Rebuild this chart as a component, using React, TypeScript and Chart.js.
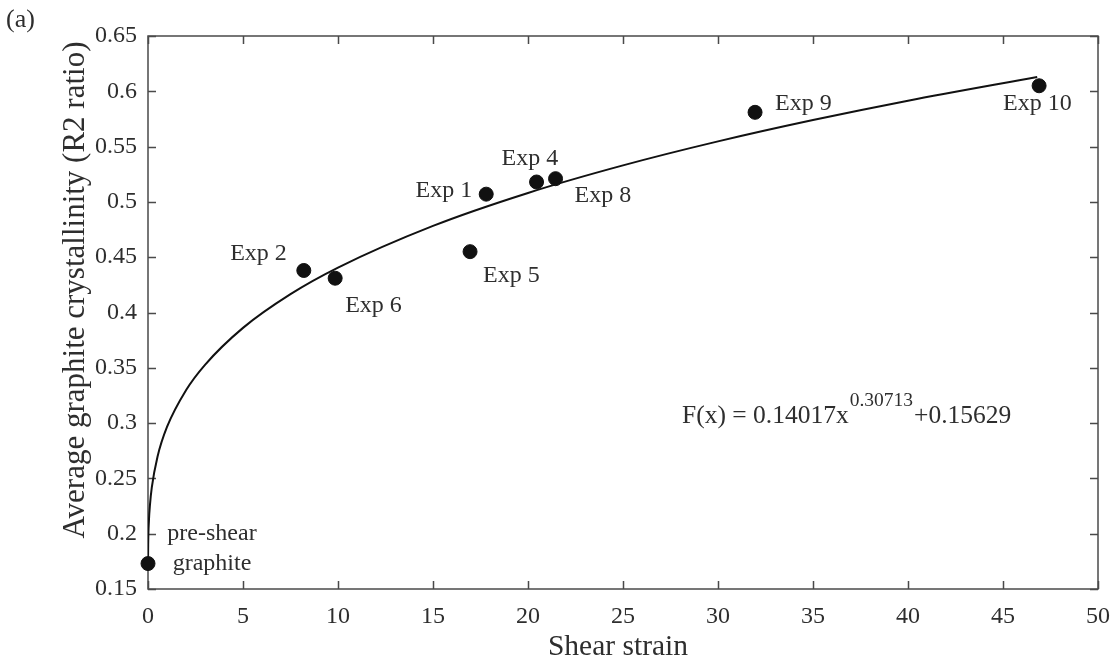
import React, { useEffect, useRef } from 'react';
import { Chart, registerables } from 'chart.js';

Chart.register(...registerables);

// ---- Data ----
const pointNames = ['pre-shear\ngraphite', 'Exp 2', 'Exp 6', 'Exp 5', 'Exp 1', 'Exp 4', 'Exp 8', 'Exp 9', 'Exp 10'];
const shearStrain = [0, 8.2, 9.85, 16.95, 17.8, 20.45, 21.45, 31.95, 46.9];
const crystallinity = [0.173, 0.438, 0.431, 0.455, 0.507, 0.518, 0.521, 0.581, 0.605];

// Fitted curve
const fitStrain = [0.001, 0.01, 0.05, 0.1, 0.2, 0.5, 1, 2, 3, 5, 7.5, 10, 15, 20, 25, 30, 35, 40, 46.8];
const fitR2 = [0.1731, 0.1904, 0.2122, 0.2254, 0.2418, 0.2696, 0.2965, 0.3297, 0.3527, 0.3861, 0.4166, 0.4406, 0.4783, 0.5081, 0.533, 0.5547, 0.574, 0.5915, 0.613];

const xTicks = [0, 5, 10, 15, 20, 25, 30, 35, 40, 45, 50];
const yTicks = [0.15, 0.2, 0.25, 0.3, 0.35, 0.4, 0.45, 0.5, 0.55, 0.6, 0.65];
const xTickLabels = ['0', '5', '10', '15', '20', '25', '30', '35', '40', '45', '50'];
const yTickLabels = ['0.15', '0.2', '0.25', '0.3', '0.35', '0.4', '0.45', '0.5', '0.55', '0.6', '0.65'];

const xTitle = 'Shear strain';
const yTitle = 'Average graphite crystallinity (R2 ratio)';
const panelLabel = '(a)';
const eqMain = 'F(x) = 0.14017x';
const eqSup = '0.30713';
const eqTail = '+0.15629';

// ---- Layout (pixel offsets of point labels relative to their markers) ----
const labelLayout = [
  { dx: 64, dy: -24, align: 'center' },
  { dx: -17, dy: -10, align: 'right' },
  { dx: 10, dy: 34, align: 'left' },
  { dx: 13, dy: 30, align: 'left' },
  { dx: -14, dy: 3, align: 'right' },
  { dx: -35, dy: -17, align: 'left' },
  { dx: 19, dy: 23, align: 'left' },
  { dx: 20, dy: -2, align: 'left' },
  { dx: -36, dy: 24, align: 'left' },
];

const FONT = '"Liberation Serif", "Times New Roman", serif';
const TEXT = '#2e2e2e';
const AXIS = '#4a4a4a';

const overlay = {
  id: 'overlay',
  beforeDatasetsDraw(chart: any) {
    const { ctx, chartArea } = chart;
    const { left, right, top, bottom } = chartArea;
    const xs = chart.scales.x;
    const ys = chart.scales.y;
    ctx.save();
    // box
    ctx.strokeStyle = AXIS;
    ctx.lineWidth = 1.5;
    ctx.strokeRect(left, top, right - left, bottom - top);
    // inward ticks on all four sides
    ctx.beginPath();
    xTicks.forEach((v) => {
      const px = Math.round(xs.getPixelForValue(v)) + 0.5;
      ctx.moveTo(px, bottom); ctx.lineTo(px, bottom - 8);
      ctx.moveTo(px, top); ctx.lineTo(px, top + 8);
    });
    yTicks.forEach((v) => {
      const py = Math.round(ys.getPixelForValue(v)) + 0.5;
      ctx.moveTo(left, py); ctx.lineTo(left + 8, py);
      ctx.moveTo(right, py); ctx.lineTo(right - 8, py);
    });
    ctx.stroke();
    ctx.restore();
  },
  afterDraw(chart: any) {
    const { ctx } = chart;
    const xs = chart.scales.x;
    const ys = chart.scales.y;
    ctx.save();
    ctx.fillStyle = TEXT;
    // point labels
    ctx.font = `24px ${FONT}`;
    ctx.textBaseline = 'alphabetic';
    pointNames.forEach((name, i) => {
      const L = labelLayout[i];
      const px = xs.getPixelForValue(shearStrain[i]);
      const py = ys.getPixelForValue(crystallinity[i]);
      ctx.textAlign = L.align;
      name.split('\n').forEach((line, j) => {
        ctx.fillText(line, px + L.dx, py + L.dy + j * 30);
      });
    });

    // equation
    ctx.textAlign = 'left';
    ctx.font = `25.5px ${FONT}`;
    let ex = 682;
    ctx.fillText(eqMain, ex, 423);
    ex += ctx.measureText(eqMain).width + 1;
    ctx.font = `19.5px ${FONT}`;
    ctx.fillText(eqSup, ex, 406);
    ex += ctx.measureText(eqSup).width + 1;
    ctx.font = `25.5px ${FONT}`;
    ctx.fillText(eqTail, ex, 423);

    // panel label
    ctx.font = `26px ${FONT}`;
    ctx.fillText(panelLabel, 6, 27);

    // axis titles
    ctx.font = `29.5px ${FONT}`;
    ctx.textAlign = 'center';
    ctx.fillText(xTitle, 618, 655);
    ctx.save();
    ctx.translate(76, 290);
    ctx.rotate(-Math.PI / 2);
    ctx.textBaseline = 'middle';
    ctx.font = `31px ${FONT}`;
    ctx.fillText(yTitle, 0, 0);
    ctx.restore();
    ctx.restore();
  },
};

export default function App() {
  const ref = useRef<HTMLCanvasElement | null>(null);
  useEffect(() => {
    document.body.style.margin = '0';
    const canvas = ref.current;
    if (!canvas) return;
    const chart = new Chart(canvas, {
      type: 'scatter',
      data: {
        datasets: [
          {
            label: 'Experiments',
            data: shearStrain.map((x, i) => ({ x, y: crystallinity[i] })),
            backgroundColor: '#111',
            borderColor: '#111',
            pointRadius: 7,
            pointHoverRadius: 7,
            showLine: false,
            clip: false,
          },
          {
            label: 'Fit',
            data: fitStrain.map((x, i) => ({ x, y: fitR2[i] })),
            showLine: true,
            borderColor: '#111',
            borderWidth: 2,
            pointRadius: 0,
            cubicInterpolationMode: 'monotone',
            fill: false,
          },
        ],
      },
      options: {
        animation: false,
        responsive: true,
        maintainAspectRatio: false,
        layout: { padding: { left: 0, top: 36, right: 18, bottom: 0 } },
        plugins: { legend: { display: false }, tooltip: { enabled: false } },
        scales: {
          x: {
            type: 'linear',
            min: 0,
            max: 50,
            afterBuildTicks: (s: any) => { s.ticks = xTicks.map((v) => ({ value: v })); },
            afterFit: (s: any) => { s.height = 74; s.paddingLeft = 0; s.paddingRight = 0; },
            ticks: {
              padding: 13,
              color: TEXT,
              font: { family: FONT, size: 24 },
              callback: (v: any) => xTickLabels[xTicks.indexOf(Number(v))] ?? '',
              maxRotation: 0,
              autoSkip: false,
            },
            grid: { display: false, drawTicks: false },
            border: { display: false },
          },
          y: {
            type: 'linear',
            min: 0.15,
            max: 0.65,
            afterBuildTicks: (s: any) => { s.ticks = yTicks.map((v) => ({ value: v })); },
            afterFit: (s: any) => { s.width = 148; s.paddingTop = 0; s.paddingBottom = 0; },
            ticks: {
              padding: 11,
              color: TEXT,
              font: { family: FONT, size: 24 },
              callback: (v: any) => {
                const idx = yTicks.findIndex((t) => Math.abs(t - Number(v)) < 1e-9);
                return idx >= 0 ? yTickLabels[idx] : '';
              },
              autoSkip: false,
            },
            grid: { display: false, drawTicks: false },
            border: { display: false },
          },
        },
      },
      plugins: [overlay],
    } as any);
    return () => chart.destroy();
  }, []);
  return (
    <div style={{ width: 1116, height: 663, position: 'relative', background: '#fff' }}>
      <canvas ref={ref} />
    </div>
  );
}
